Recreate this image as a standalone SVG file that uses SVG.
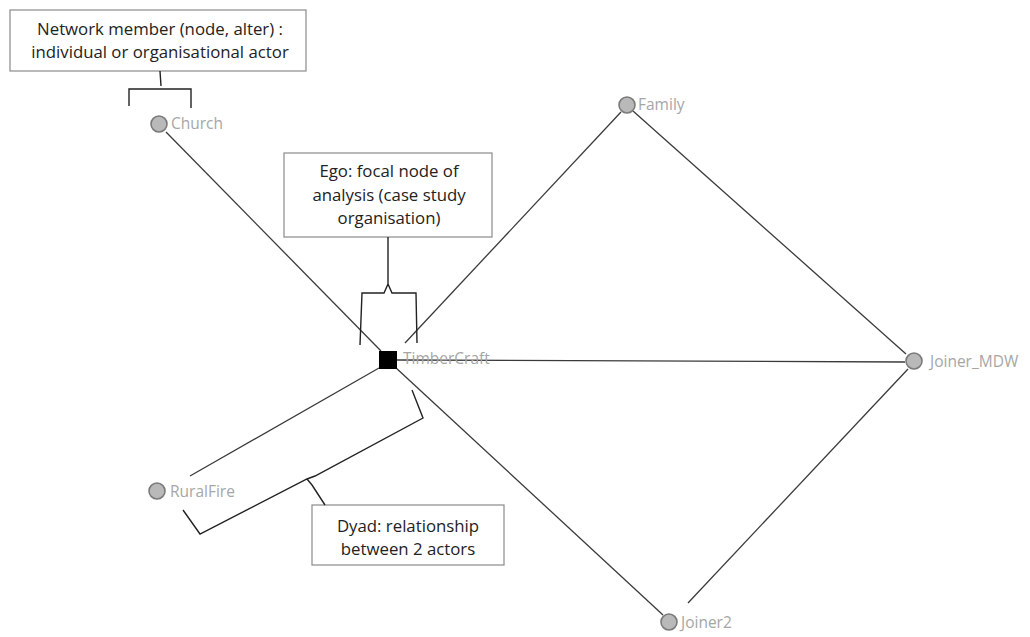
<svg xmlns="http://www.w3.org/2000/svg" width="1030" height="637" viewBox="0 0 1030 637">
  <style>
    .edge { stroke: #3a3a3a; stroke-width: 1.3; fill: none; }
    .brace { stroke: #222; stroke-width: 1.4; fill: none; stroke-linejoin: miter; }
    .alter { fill: #b9b9b9; stroke: #7a7a7a; stroke-width: 1.6; }
    .label { font-family: "Open Sans", "Liberation Sans", sans-serif; font-size: 15.5px; fill: #a6a6a6; }
    .callout { fill: #fff; stroke: #8a8a8a; stroke-width: 1.2; }
    .note { font-family: "Open Sans", "Liberation Sans", sans-serif; font-size: 16.8px; fill: #222; text-anchor: middle; }
  </style>
  <rect width="1030" height="637" fill="#fff"/>

  <!-- ties between actors -->
  <g id="connectors">
    <line class="edge" x1="166" y1="132" x2="381" y2="351"/>
    <line class="edge" x1="621" y1="112" x2="405" y2="343"/>
    <line class="edge" x1="397" y1="360" x2="905" y2="362"/>
    <line class="edge" x1="395" y1="367" x2="663" y2="615"/>
    <line class="edge" x1="379" y1="368" x2="190" y2="476"/>
    <line class="edge" x1="633" y1="111" x2="906" y2="354"/>
    <line class="edge" x1="908" y1="369" x2="688" y2="603"/>
  </g>

  <!-- actors -->
  <g id="church">
    <circle class="alter" cx="159" cy="124" r="8"/>
    <text class="label" x="171" y="129">Church</text>
  </g>
  <g id="family">
    <circle class="alter" cx="627" cy="105" r="8"/>
    <text class="label" x="638" y="110">Family</text>
  </g>
  <g id="timbercraft">
    <rect x="379" y="351" width="18" height="18" fill="#000"/>
    <text class="label" x="403" y="364">TimberCraft</text>
  </g>
  <g id="joiner-mdw">
    <circle class="alter" cx="914" cy="361" r="8"/>
    <text class="label" x="930" y="367">Joiner_MDW</text>
  </g>
  <g id="ruralfire">
    <circle class="alter" cx="157" cy="491" r="8"/>
    <text class="label" x="170" y="497">RuralFire</text>
  </g>
  <g id="joiner2">
    <circle class="alter" cx="669" cy="622" r="8"/>
    <text class="label" x="681" y="628">Joiner2</text>
  </g>

  <!-- callout: network member -->
  <g id="note-member">
    <rect class="callout" x="10" y="10" width="296" height="61"/>
    <text class="note" x="160" y="35">Network member (node, alter) :</text>
    <text class="note" x="160" y="58">individual or organisational actor</text>
    <path class="brace" d="M160,71 L161,86 M129,106 L129,89 L191,89 L191,108"/>
  </g>

  <!-- callout: ego -->
  <g id="note-ego">
    <rect class="callout" x="284" y="153" width="208" height="84"/>
    <text class="note" x="389" y="177">Ego: focal node of</text>
    <text class="note" x="389" y="201">analysis (case study</text>
    <text class="note" x="389" y="224">organisation)</text>
    <path class="brace" d="M388,237 L388,284 M360,345 L362,293 L384,293 L388,284 L392,293 L416,293 L417,343"/>
  </g>

  <!-- callout: dyad -->
  <g id="note-dyad">
    <rect class="callout" x="312" y="505" width="192" height="60"/>
    <text class="note" x="408" y="532">Dyad: relationship</text>
    <text class="note" x="408" y="555">between 2 actors</text>
    <path class="brace" d="M183,510 L200,534 L307,479 L315,476 L423,418 L412,390 M307,479 L312,485 L325,505"/>
  </g>
</svg>
